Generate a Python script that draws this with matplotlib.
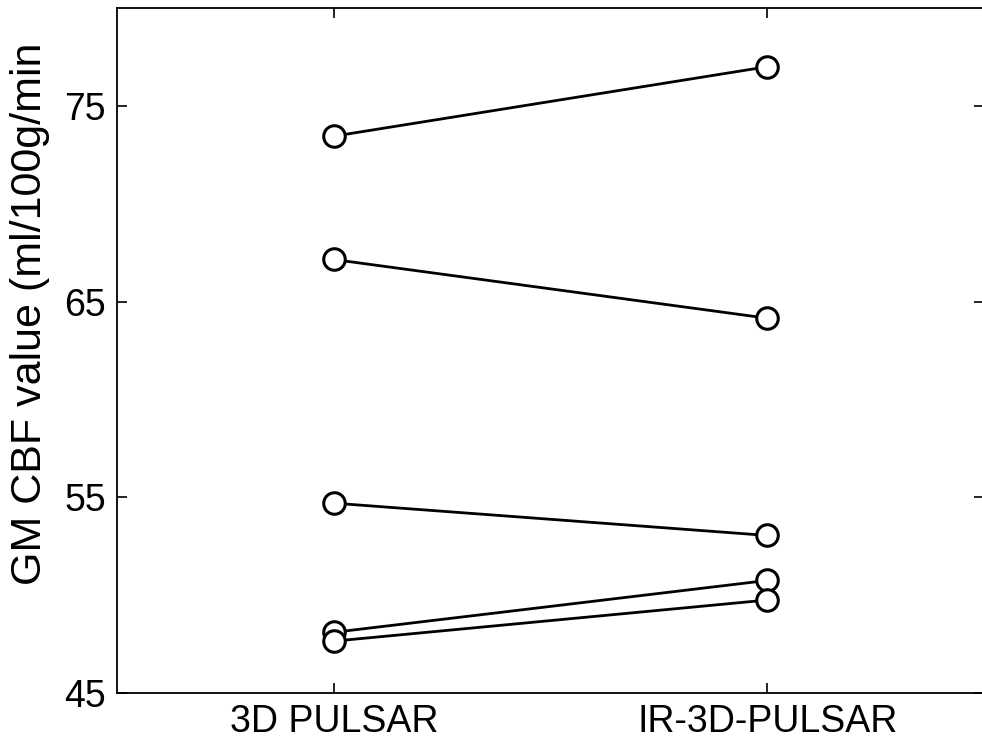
import matplotlib
matplotlib.use("Agg")
import matplotlib.pyplot as plt

# Data
categories = ["3D PULSAR", "IR-3D-PULSAR"]
pulsar_3d = [73.45, 67.15, 54.7, 48.1, 47.65]
ir_3d_pulsar = [77.0, 64.15, 53.05, 50.75, 49.75]
y_ticks = [45, 55, 65, 75]
y_label = "GM CBF value (ml/100g/min"

W, H = 982, 743
fig = plt.figure(figsize=(W / 100, H / 100), dpi=100)
plt.rcParams['font.family'] = ['Liberation Sans', 'DejaVu Sans']

left, right, top, bottom = 117, 984, 8, 693
ax = fig.add_axes([left / W, 1 - bottom / H, (right - left) / W, (bottom - top) / H])

xs = [1, 2]
for a, b in zip(pulsar_3d, ir_3d_pulsar):
    ax.plot(xs, [a, b], color='black', linewidth=2.0, marker='o', markersize=15.5,
            markerfacecolor='white', markeredgecolor='black', markeredgewidth=2.2)

ax.set_xlim(0.5, 2.5)
ax.set_ylim(45, 80)
ax.set_xticks(xs)
ax.set_xticklabels(categories)
ax.set_yticks(y_ticks)
ax.tick_params(direction='in', length=7, width=1.2, top=True, right=True,
               labelsize=27, pad=8, color='black')
for s in ax.spines.values():
    s.set_linewidth(1.3)

fig.text(30 / W, 1 - 314 / H, y_label, rotation=90, ha='center', va='center', fontsize=31)

fig.savefig("out.png", dpi=100)
